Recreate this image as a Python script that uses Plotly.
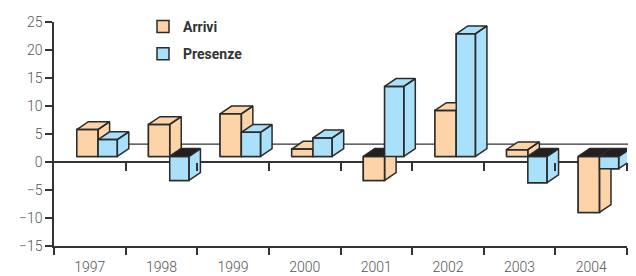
import plotly.graph_objects as go

# ---------------- data ----------------
years = ["1997", "1998", "1999", "2000", "2001", "2002", "2003", "2004"]
arrivi = [4.8, 5.7, 7.6, 1.3, -4.3, 8.2, 1.2, -10.0]
presenze = [3.0, -4.3, 4.3, 3.3, 12.5, 21.9, -4.7, -2.2]
y_ticks = [-15, -10, -5, 0, 5, 10, 15, 20, 25]
series_names = ["Arrivi", "Presenze"]

# ---------------- layout / style constants ----------------
PAGE_PAD = 8                      # default body margin of the html page
W, H = 636 - PAGE_PAD, 276 - PAGE_PAD
ML, MR, MT, MB = 54 - PAGE_PAD, 9, 22 - PAGE_PAD, 30
PW, PH = W - ML - MR, H - MT - MB
X_RANGE = [-0.5, len(years) - 0.5]
Y_RANGE = [-15, 25]
PX_X = PW / (X_RANGE[1] - X_RANGE[0])
PX_Y = PH / (Y_RANGE[1] - Y_RANGE[0])

DX = 11.5 / PX_X          # oblique depth, horizontal
DY = 7.8 / PX_Y           # oblique depth, vertical
BASE = 1.0                # floor level of the bars (front)
FLOOR_BACK = 3.2          # back edge of the floor
OFFS = [(-13.0 / PX_X, 8.3 / PX_X), (8.3 / PX_X, 27.5 / PX_X)]

COLORS = ["#FDD3A8", "#AAE1FA"]
DARK = "#231F20"
EDGE = "#2B2B2B"
AXC = "#333333"
TICK_FONT = dict(family="Roboto, Arial, sans-serif", size=14, color="#555555", weight=300)

fig = go.Figure()

xs = list(range(len(years)))

# front faces as bars (also provide the legend entries)
for k, (name, vals) in enumerate(zip(series_names, [arrivi, presenze])):
    o0, o1 = OFFS[k]
    fig.add_trace(go.Bar(
        x=xs, y=vals, base=BASE, width=o1 - o0, offset=o0,
        name=name, legendgroup=name,
        marker=dict(color=COLORS[k], line=dict(color=EDGE, width=1.5)),
        hoverinfo="skip",
    ))


def poly_xy(polys):
    px, py = [], []
    for p in polys:
        for (a, b) in p + [p[0]]:
            px.append(a)
            py.append(b)
        px.append(None)
        py.append(None)
    return px, py


# full 3-D boxes drawn in order (series by series)
for k, vals in enumerate([arrivi, presenze]):
    o0, o1 = OFFS[k]
    light, dark = [], []
    for i, v in enumerate(vals):
        x0, x1 = i + o0, i + o1
        b, t = BASE, BASE + v
        front = [(x0, b), (x1, b), (x1, t), (x0, t)]
        if v >= 0:
            side = [(x1, b), (x1 + DX, b + DY), (x1 + DX, t + DY), (x1, t)]
            top = [(x0, t), (x1, t), (x1 + DX, t + DY), (x0 + DX, t + DY)]
            light += [front, side, top]
        else:
            side = [(x1, t), (x1 + DX, t + DY), (x1 + DX, b + DY), (x1, b)]
            top = [(x0, b), (x1, b), (x1 + DX, b + DY), (x0 + DX, b + DY)]
            light += [front, side]
            dark += [top]
    lx, ly = poly_xy(light)
    fig.add_trace(go.Scatter(x=lx, y=ly, mode="lines", fill="toself",
                             fillcolor=COLORS[k], line=dict(color=EDGE, width=1.5),
                             showlegend=False, hoverinfo="skip"))
    if dark:
        dx_, dy_ = poly_xy(dark)
        fig.add_trace(go.Scatter(x=dx_, y=dy_, mode="lines", fill="toself",
                                 fillcolor=DARK, line=dict(color=EDGE, width=1.5),
                                 showlegend=False, hoverinfo="skip"))

# dummy trace for the axis carrying the ticks on the zero line
fig.add_trace(go.Scatter(x=xs, y=[0] * len(xs), xaxis="x2", mode="none",
                         showlegend=False, hoverinfo="skip"))

boundaries = [i - 0.5 for i in range(len(years) + 1)]

# back edge of the floor
fig.add_shape(type="line", xref="paper", yref="y",
              x0=25 / PW, x1=1.03, y0=FLOOR_BACK, y1=FLOOR_BACK,
              line=dict(color=AXC, width=1.2), layer="below")

LEG_LEFT = 143 - PAGE_PAD         # legend box left edge (figure pixels)
LEG_TOP = 11 - PAGE_PAD           # legend box top edge (figure pixels)

fig.update_layout(
    width=W, height=H,
    margin=dict(l=ML, r=MR, t=MT, b=MB, autoexpand=False),
    paper_bgcolor="white", plot_bgcolor="white",
    barmode="overlay",
    showlegend=True,
    legend=dict(x=(LEG_LEFT - ML) / PW, xanchor="left",
                y=1 + (MT - LEG_TOP) / PH, yanchor="top",
                font=dict(family="Roboto, Arial, sans-serif", size=14, color="#333333", weight="bold"),
                tracegroupgap=6, bgcolor="rgba(0,0,0,0)", traceorder="grouped"),
    xaxis=dict(range=X_RANGE, tickmode="array", tickvals=xs, ticktext=years,
               ticks="", showgrid=False, zeroline=False, automargin=False,
               showline=True, linecolor=AXC, linewidth=1.5,
               tickfont=TICK_FONT, ticklabelstandoff=7,
               minor=dict(tickmode="array", tickvals=boundaries, ticks="outside",
                          ticklen=7, tickwidth=1.5, tickcolor=AXC, showgrid=False)),
    xaxis2=dict(range=X_RANGE, overlaying="x", anchor="free", position=0.375,
                tickmode="array", tickvals=boundaries[1:], ticks="outside",
                ticklen=8, tickwidth=1.5, tickcolor=AXC, showticklabels=False,
                showgrid=False, zeroline=False, showline=False, automargin=False),
    yaxis=dict(range=Y_RANGE, tickmode="array", tickvals=y_ticks, automargin=False,
               ticks="outside", ticklen=7, tickwidth=1.5, tickcolor=AXC,
               showline=True, linecolor=AXC, linewidth=1.5,
               showgrid=False, zeroline=True, zerolinecolor=AXC, zerolinewidth=1.5,
               tickfont=TICK_FONT, ticklabelstandoff=0),
)

fig.write_html("out.html")
